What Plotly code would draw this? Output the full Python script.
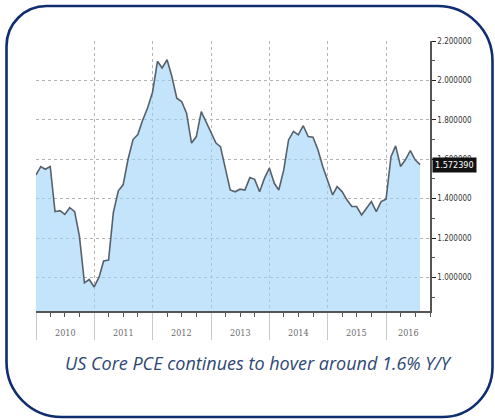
import calendar
import datetime as dt
import plotly.graph_objects as go

# US core PCE, % Y/Y, monthly (month-end), Dec 2009 - Jul 2016
start_year, start_month = 2009, 12
core_pce = [
    1.520,
    1.563, 1.549, 1.563, 1.334, 1.339, 1.320, 1.354, 1.334, 1.207, 0.973, 0.990, 0.952,
    1.003, 1.084, 1.088, 1.330, 1.440, 1.470, 1.600, 1.700, 1.725, 1.800, 1.860, 1.940,
    2.097, 2.063, 2.105, 2.020, 1.910, 1.893, 1.834, 1.682, 1.715, 1.842, 1.791, 1.741,
    1.682, 1.664, 1.546, 1.444, 1.435, 1.448, 1.444, 1.507, 1.498, 1.435, 1.503, 1.555,
    1.478, 1.444, 1.546, 1.698, 1.741, 1.724, 1.770, 1.715, 1.712, 1.648, 1.563, 1.495,
    1.419, 1.461, 1.436, 1.394, 1.360, 1.360, 1.317, 1.351, 1.385, 1.334, 1.385, 1.397,
    1.613, 1.668, 1.563, 1.597, 1.644, 1.597, 1.57239,
]
year_labels = ["2010", "2011", "2012", "2013", "2014", "2015", "2016"]
x_range = ["2010-01-01", "2016-10-01"]
y_range = [0.83, 2.2]
caption = "US Core PCE continues to hover around 1.6% Y/Y"


def month_ends(y, m, n):
    out = []
    for _ in range(n):
        out.append(dt.date(y, m, calendar.monthrange(y, m)[1]))
        m += 1
        if m > 12:
            m, y = 1, y + 1
    return out


dates = month_ends(start_year, start_month, len(core_pce))

W, H = 495, 420
ML, MR, MT, MB = 36, 65, 41, 109
PW, PH = W - ML - MR, H - MT - MB


def px(x):
    return (x - ML) / PW


def py(y):
    return (H - MB - y) / PH


fig = go.Figure()
fig.add_trace(go.Scatter(
    x=dates, y=core_pce, mode="lines",
    line=dict(color="#56616c", width=1.6),
    fill="tozeroy", fillcolor="rgba(160,212,250,0.62)",
    hoverinfo="skip", showlegend=False,
))

# year labels centred in each year's span
range_end = dt.date.fromisoformat(x_range[1])
for lab in year_labels:
    y0 = dt.date(int(lab), 1, 1)
    y1 = min(dt.date(int(lab) + 1, 1, 1), range_end)
    mid = y0 + (y1 - y0) / 2
    fig.add_annotation(
        x=mid, xref="x", y=0, yref="paper", yanchor="top", yshift=-15,
        text=lab, showarrow=False,
        font=dict(family="DejaVu Serif Condensed, DejaVu Serif", size=9, color="#6a6a6a"),
    )

# last value flag on the right axis
fig.add_annotation(
    x=1, xref="paper", y=core_pce[-1], yref="y", xanchor="left", yanchor="middle",
    xshift=2, text=f"{core_pce[-1]:.6f}", showarrow=False, bgcolor="#111111",
    font=dict(family="DejaVu Sans Condensed, DejaVu Sans", size=9, color="white"),
    borderpad=2,
)

# caption
fig.add_annotation(
    x=px(258), y=py(363), xref="paper", yref="paper",
    xanchor="center", yanchor="middle",
    text=f"<i>{caption}</i>", showarrow=False,
    font=dict(family="Open Sans", size=18, color="#2e4773"),
)

# rounded card frame
L, R, T, B = 6.5, 492.5, 6.0, 417.0
r_tl, r_tr, r_br, r_bl = 40, 55, 50, 55
k = 0.552


def corner(x0, y0, cx, cy, x1, y1):
    c1 = (x0 + k * (cx - x0), y0 + k * (cy - y0))
    c2 = (x1 + k * (cx - x1), y1 + k * (cy - y1))
    return (f" C {px(c1[0]):.5f},{py(c1[1]):.5f} {px(c2[0]):.5f},{py(c2[1]):.5f}"
            f" {px(x1):.5f},{py(y1):.5f}")


path = f"M {px(L + r_tl):.5f},{py(T):.5f}"
path += f" L {px(R - r_tr):.5f},{py(T):.5f}"
path += corner(R - r_tr, T, R, T, R, T + r_tr)
path += f" L {px(R):.5f},{py(B - r_br):.5f}"
path += corner(R, B - r_br, R, B, R - r_br, B)
path += f" L {px(L + r_bl):.5f},{py(B):.5f}"
path += corner(L + r_bl, B, L, B, L, B - r_bl)
path += f" L {px(L):.5f},{py(T + r_tl):.5f}"
path += corner(L, T + r_tl, L, T, L + r_tl, T)
path += " Z"
fig.add_shape(type="path", path=path, xref="paper", yref="paper",
              line=dict(color="#0f2d6f", width=2.6), layer="above")

fig.update_layout(
    width=W, height=H,
    margin=dict(l=ML, r=MR, t=MT, b=MB, autoexpand=False),
    paper_bgcolor="white", plot_bgcolor="white",
    xaxis=dict(
        type="date", range=x_range, automargin=False,
        tick0="2010-01-01", dtick="M12", showticklabels=False,
        ticks="outside", ticklen=27, tickcolor="#c8c8c8", tickwidth=1,
        showgrid=True, gridcolor="#b4b4b4", griddash="dot", gridwidth=1,
        showline=True, linecolor="#555555", linewidth=1.5,
        zeroline=False,
        minor=dict(dtick="M3", tick0="2010-01-01", ticks="outside",
                   ticklen=4, tickcolor="#555555", showgrid=False),
    ),
    yaxis=dict(
        range=y_range, side="right", automargin=False,
        tick0=0, dtick=0.2, tickformat=".6f",
        ticks="outside", ticklen=4, tickcolor="#222222",
        tickfont=dict(family="DejaVu Sans Condensed, DejaVu Sans", size=8, color="#333333"),
        showgrid=True, gridcolor="#b4b4b4", griddash="dot", gridwidth=1,
        showline=True, linecolor="#555555", linewidth=1.5,
        zeroline=False,
        minor=dict(dtick=0.1, ticks="outside", ticklen=3, tickcolor="#555555", showgrid=False),
    ),
)

fig.write_html("out.html")
